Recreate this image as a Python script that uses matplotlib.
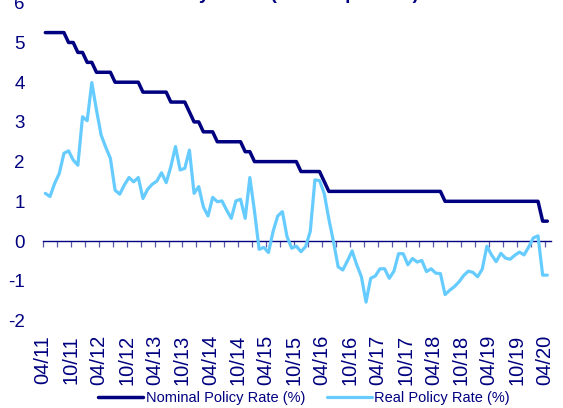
import numpy as np
import matplotlib
matplotlib.use("Agg")
import matplotlib.pyplot as plt
from matplotlib.ticker import NullFormatter

plt.rcParams['font.family'] = ['Liberation Sans', 'DejaVu Sans']
plt.rcParams['axes.unicode_minus'] = False

NAVY = '#000080'
LIGHT = '#66CCFF'

# monthly data, Apr 2011 .. Apr 2020
nominal_rate = [
    5.25, 5.25, 5.25, 5.25, 5.25, 5.00, 5.00, 4.75, 4.75, 4.50,
    4.50, 4.25, 4.25, 4.25, 4.25, 4.00, 4.00, 4.00, 4.00, 4.00,
    4.00, 3.75, 3.75, 3.75, 3.75, 3.75, 3.75, 3.50, 3.50, 3.50,
    3.50, 3.25, 3.00, 3.00, 2.75, 2.75, 2.75, 2.50, 2.50, 2.50,
    2.50, 2.50, 2.50, 2.25, 2.25, 2.00, 2.00, 2.00, 2.00, 2.00,
    2.00, 2.00, 2.00, 2.00, 2.00, 1.75, 1.75, 1.75, 1.75, 1.75,
    1.50, 1.25, 1.25, 1.25, 1.25, 1.25, 1.25, 1.25, 1.25, 1.25,
    1.25, 1.25, 1.25, 1.25, 1.25, 1.25, 1.25, 1.25, 1.25, 1.25,
    1.25, 1.25, 1.25, 1.25, 1.25, 1.25, 1.00, 1.00, 1.00, 1.00,
    1.00, 1.00, 1.00, 1.00, 1.00, 1.00, 1.00, 1.00, 1.00, 1.00,
    1.00, 1.00, 1.00, 1.00, 1.00, 1.00, 1.00, 0.50, 0.50,
]

real_rate = [
    1.20, 1.12, 1.45, 1.70, 2.21, 2.27, 2.04, 1.91, 3.13, 3.03,
    3.99, 3.30, 2.67, 2.36, 2.08, 1.28, 1.18, 1.41, 1.60, 1.49,
    1.60, 1.07, 1.30, 1.43, 1.51, 1.72, 1.47, 1.87, 2.38, 1.79,
    1.83, 2.29, 1.20, 1.37, 0.86, 0.63, 1.10, 0.99, 1.01, 0.78,
    0.57, 1.01, 1.05, 0.57, 1.60, 0.75, -0.21, -0.16, -0.29, 0.24,
    0.63, 0.74, 0.11, -0.18, -0.13, -0.27, -0.14, 0.24, 1.54, 1.52,
    1.20, 0.55, -0.02, -0.65, -0.73, -0.50, -0.25, -0.60, -0.90, -1.54,
    -0.94, -0.88, -0.70, -0.70, -0.94, -0.76, -0.32, -0.32, -0.60, -0.44,
    -0.53, -0.49, -0.77, -0.70, -0.81, -0.82, -1.35, -1.24, -1.15, -1.03,
    -0.87, -0.76, -0.79, -0.90, -0.71, -0.13, -0.35, -0.52, -0.31, -0.43,
    -0.46, -0.36, -0.28, -0.35, -0.15, 0.08, 0.13, -0.86, -0.86,
]

tick_labels = ['04/11', '10/11', '04/12', '10/12', '04/13', '10/13', '04/14',
               '10/14', '04/15', '10/15', '04/16', '10/16', '04/17', '10/17',
               '04/18', '10/18', '04/19', '10/19', '04/20']

title = 'Policy Rates (Annual percent)'

# points sit in the middle of each month
x = np.arange(len(nominal_rate)) + 0.5

fig = plt.figure(figsize=(5.63, 4.08), dpi=100)
ax = fig.add_axes([0.0764, 0.2147, 0.9015, 0.7784])

ax.plot(x, nominal_rate, color=NAVY, lw=2.5, solid_joinstyle='round',
        solid_capstyle='round', label='Nominal Policy Rate (%)', zorder=3)
ax.plot(x, real_rate, color=LIGHT, lw=2.3, solid_joinstyle='round',
        solid_capstyle='round', label='Real Policy Rate (%)', zorder=4)

ax.set_xlim(0, 109.2)
ax.set_ylim(-2, 6)
for s in ax.spines.values():
    s.set_visible(False)

ax.set_yticks(range(-2, 7))
ax.tick_params(axis='y', length=0, pad=13, labelsize=13.5, labelcolor=NAVY)
ax.set_xticks(np.arange(0, 109, 6))
ax.set_xticklabels(tick_labels, rotation=90)
ax.tick_params(axis='x', length=0, pad=10.5, labelsize=14.5, labelcolor=NAVY)

# zero line with the quarterly tick marks
zero_ax = ax.secondary_xaxis(0.25)
zero_ax.set_xticks(np.arange(0, 109.2, 3))
zero_ax.xaxis.set_major_formatter(NullFormatter())
zero_ax.tick_params(axis='x', direction='out', length=4.5, width=0.9,
                    color='#5a5aa8')
zero_ax.spines['bottom'].set_color(NAVY)
zero_ax.spines['bottom'].set_linewidth(1.0)

fig.legend(loc='center', bbox_to_anchor=(0.54, 0.0245), ncol=2,
           frameon=False, fontsize=10.5, handlelength=3.1,
           handletextpad=0.15, columnspacing=1.5, labelcolor=NAVY)

# title is mostly cut off by the top edge in the original
fig.text(0.2735, 1 + 1.0 / 408, title, fontsize=13.5, fontweight='bold',
         color=NAVY, ha='left', va='baseline')

fig.savefig('out.png', dpi=100)
